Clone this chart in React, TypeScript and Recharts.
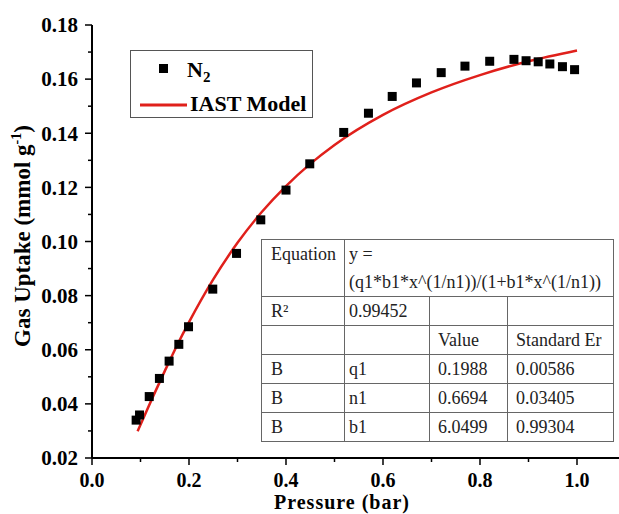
import React from 'react';
import { ComposedChart, Scatter, Line, XAxis, YAxis, Legend } from 'recharts';

// Measured N2 uptake
const pressures = [0.091, 0.098, 0.118, 0.139, 0.159, 0.179, 0.199, 0.249, 0.298, 0.348, 0.4, 0.449, 0.519, 0.57, 0.619, 0.669, 0.72, 0.769, 0.82, 0.87, 0.895, 0.92, 0.944, 0.97, 0.995];
const uptakes = [0.034, 0.0359, 0.0427, 0.0494, 0.0558, 0.062, 0.0685, 0.0824, 0.0956, 0.108, 0.119, 0.1287, 0.1403, 0.1474, 0.1536, 0.1586, 0.1624, 0.1648, 0.1666, 0.1673, 0.1668, 0.1664, 0.1656, 0.1646, 0.1635];

// IAST model curve
const modelPressures = [0.094, 0.1, 0.125, 0.15, 0.175, 0.2, 0.25, 0.3, 0.35, 0.4, 0.45, 0.5, 0.6, 0.7, 0.8, 0.9, 1.0];
const modelUptakes = [0.0299, 0.0323, 0.0424, 0.0521, 0.0615, 0.0702, 0.086, 0.0995, 0.1109, 0.1205, 0.1287, 0.1357, 0.1468, 0.1551, 0.1615, 0.1666, 0.1706];

const xTicks = [0, 0.1, 0.2, 0.3, 0.4, 0.5, 0.6, 0.7, 0.8, 0.9, 1.0];
const yTicks = [0.02, 0.03, 0.04, 0.05, 0.06, 0.07, 0.08, 0.09, 0.1, 0.11, 0.12, 0.13, 0.14, 0.15, 0.16, 0.17, 0.18];

// Fit summary
const equationLines = ['y =', '(q1*b1*x^(1/n1))/(1+b1*x^(1/n1))'];
const r2Row = ['R²', '0.99452', '', ''];
const headerRow = ['', '', 'Value', 'Standard Er'];
const paramRows = [
  ['B', 'q1', '0.1988', '0.00586'],
  ['B', 'n1', '0.6694', '0.03405'],
  ['B', 'b1', '6.0499', '0.99304'],
];

const points = pressures.map((x, i) => ({ x, y: uptakes[i] }));
const curve = modelPressures.map((x, i) => ({ x, y: modelUptakes[i] }));

const FONT = '"Liberation Serif", "Times New Roman", serif';
const RED = '#e0201b';

const XTick = (props: any) => {
  const { x, y, payload } = props;
  const major = Math.round(payload.value * 10) % 2 === 0;
  return (
    <g>
      <line x1={x} x2={x} y1={y} y2={y + (major ? 7 : 4)} stroke="#000" strokeWidth={1.5} />
      {major && (
        <text x={x} y={y + 29} textAnchor="middle" fontFamily={FONT} fontWeight="bold" fontSize={20} fill="#000">
          {payload.value.toFixed(1)}
        </text>
      )}
    </g>
  );
};

const YTick = (props: any) => {
  const { x, y, payload } = props;
  const major = Math.round(payload.value * 100) % 2 === 0;
  return (
    <g>
      <line x1={x - (major ? 7 : 4)} x2={x} y1={y} y2={y} stroke="#000" strokeWidth={1.5} />
      {major && (
        <text x={x - 14} y={y} dy="0.35em" textAnchor="end" fontFamily={FONT} fontWeight="bold" fontSize={21} fill="#000">
          {payload.value.toFixed(2)}
        </text>
      )}
    </g>
  );
};

const SquareDot = (props: any) => {
  const { cx, cy } = props;
  return <rect x={cx - 4.5} y={cy - 4.5} width={9} height={9} fill="#000" />;
};

const LegendBox = () => (
  <svg width={183} height={68} style={{ display: 'block' }}>
    <rect x={0.5} y={0.5} width={182} height={67} fill="#fff" stroke="#555" strokeWidth={1} />
    <rect x={29} y={14} width={9} height={9} fill="#000" />
    <text x={57} y={27} fontFamily={FONT} fontWeight="bold" fontSize={22} fill="#000">
      N<tspan dy={5} fontSize={15}>2</tspan>
    </text>
    <line x1={10} x2={57} y1={55} y2={55} stroke={RED} strokeWidth={3} />
    <text x={60} y={61} fontFamily={FONT} fontWeight="bold" fontSize={22} fill="#000">
      IAST Model
    </text>
  </svg>
);

const cell = (pad: number): React.CSSProperties => ({
  border: '1px solid #666',
  padding: `0 0 0 ${pad}px`,
  verticalAlign: 'middle',
  whiteSpace: 'nowrap',
  overflow: 'hidden',
});

const colPad = [9, 4, 8, 8];
const colWidths = [83, 85, 78, 106];
const rowHeights = [29, 29, 28, 29, 29];

const FitTable = () => (
  <table
    style={{
      position: 'absolute',
      left: 261,
      top: 239,
      width: 352,
      borderCollapse: 'collapse',
      tableLayout: 'fixed',
      fontFamily: FONT,
      fontSize: 18,
      lineHeight: '28px',
      color: '#222',
      background: '#fff',
    }}
  >
    <colgroup>
      {colWidths.map((w, i) => (
        <col key={i} style={{ width: w }} />
      ))}
    </colgroup>
    <tbody>
      <tr style={{ height: 56 }}>
        <td style={{ ...cell(colPad[0]), verticalAlign: 'top' }}>Equation</td>
        <td colSpan={3} style={{ ...cell(colPad[1]), verticalAlign: 'top' }}>
          {equationLines[0]}
          <br />
          {equationLines[1]}
        </td>
      </tr>
      {[r2Row, headerRow, ...paramRows].map((row, r) => (
        <tr key={r} style={{ height: rowHeights[r] }}>
          {row.map((v, c) => (
            <td key={c} style={cell(colPad[c])}>
              {v}
            </td>
          ))}
        </tr>
      ))}
    </tbody>
  </table>
);

export default function App() {
  return (
    <div style={{ position: 'absolute', left: 0, top: 0, width: 619, height: 514, background: '#fff' }}>
      <ComposedChart width={619} height={514} margin={{ top: 25, right: 0, bottom: 0, left: 0 }}>
        <XAxis
          type="number"
          dataKey="x"
          domain={[0, 1.0866]}
          allowDataOverflow
          ticks={xTicks}
          interval={0}
          tickSize={0}
          tickMargin={0}
          tickLine={false}
          tick={<XTick />}
          height={56}
          axisLine={{ stroke: '#000', strokeWidth: 2 }}
          label={(p: any) => {
            const vb = p.viewBox;
            return (
              <text
                x={342}
                y={vb.y + 50.5}
                textAnchor="middle"
                fontFamily={FONT}
                fontWeight="bold"
                fontSize={20}
                letterSpacing={1}
                fill="#000"
              >
                Pressure (bar)
              </text>
            );
          }}
        />
        <YAxis
          type="number"
          dataKey="y"
          domain={[0.02, 0.18]}
          allowDataOverflow
          ticks={yTicks}
          interval={0}
          tickSize={0}
          tickMargin={0}
          tickLine={false}
          tick={<YTick />}
          width={92}
          axisLine={{ stroke: '#000', strokeWidth: 2 }}
          label={() => (
            <text
              x={30}
              y={236}
              transform="rotate(-90, 30, 236)"
              textAnchor="middle"
              fontFamily={FONT}
              fontWeight="bold"
              fontSize={23}
              fill="#000"
            >
              Gas Uptake (mmol g<tspan dy={-9} fontSize={14}>-1</tspan>
              <tspan dy={9}>)</tspan>
            </text>
          )}
        />
        <Legend
          layout="vertical"
          align="center"
          verticalAlign="middle"
          wrapperStyle={{ left: 130, top: 50, width: 183, height: 68 }}
          content={() => <LegendBox />}
        />
        <Line
          data={curve}
          dataKey="y"
          type="monotone"
          stroke={RED}
          strokeWidth={2.5}
          dot={false}
          activeDot={false}
          isAnimationActive={false}
          name="IAST Model"
        />
        <Scatter data={points} dataKey="y" shape={<SquareDot />} isAnimationActive={false} name="N2" />
      </ComposedChart>
      <FitTable />
    </div>
  );
}
